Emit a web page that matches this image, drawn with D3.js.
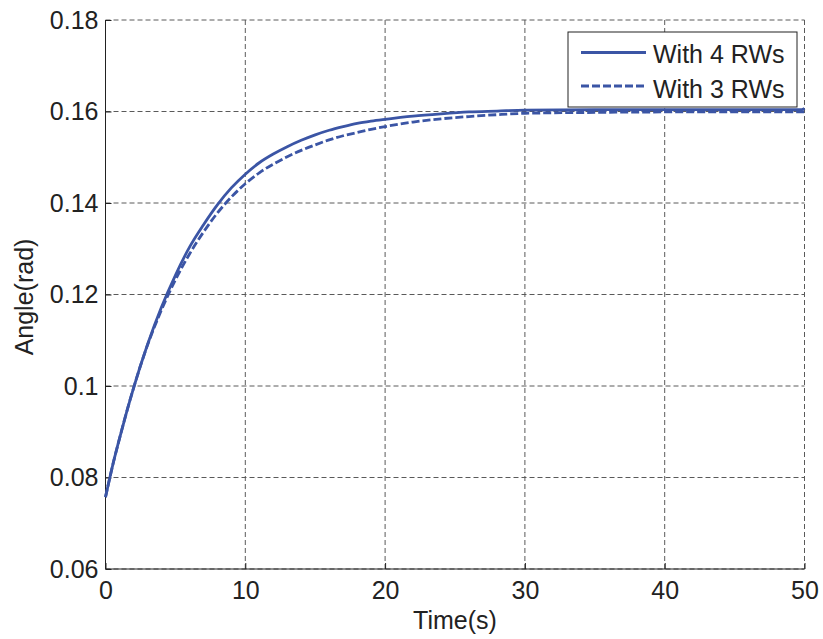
<!DOCTYPE html>
<html>
<head>
<meta charset="utf-8">
<script src="https://cdn.jsdelivr.net/npm/d3@7"></script>
<style>
  body { margin: 0; background: #fff; }
  text { font-family: "Liberation Sans", Arial, Helvetica, sans-serif; fill: #222; }
</style>
</head>
<body>
<svg id="chart" width="823" height="639"></svg>
<script>
const time = [0, 0.5, 1, 1.5, 2, 3, 4, 5, 6, 7, 8, 9, 10, 11, 12, 13, 14, 15, 16, 17, 18, 19, 20, 22, 24, 26, 28, 30, 35, 40, 45, 49.8, 50];
const with4RWs = [0.0757, 0.0825, 0.0885, 0.0942, 0.0995, 0.1090, 0.1172, 0.1242, 0.1303, 0.1352, 0.1396, 0.1433, 0.1463, 0.1488, 0.1507, 0.1523, 0.1537, 0.1549, 0.1559, 0.1567, 0.1574, 0.1579, 0.1583, 0.1590, 0.1595, 0.1599, 0.1601, 0.1603, 0.1604, 0.1604, 0.1604, 0.1604, 0.1607];
const with3RWs = [0.0757, 0.0825, 0.0885, 0.0942, 0.0995, 0.1089, 0.1166, 0.1232, 0.1288, 0.1336, 0.1378, 0.1413, 0.1442, 0.1466, 0.1485, 0.1501, 0.1515, 0.1527, 0.1538, 0.1547, 0.1554, 0.1561, 0.1567, 0.1577, 0.1584, 0.1589, 0.1593, 0.1596, 0.1598, 0.1599, 0.1599, 0.1599, 0.1599];
const xTicks = [0, 10, 20, 30, 40, 50];
const yTicks = [0.06, 0.08, 0.1, 0.12, 0.14, 0.16, 0.18];
const yTickLabels = ["0.06", "0.08", "0.1", "0.12", "0.14", "0.16", "0.18"];
const seriesNames = ["With 4 RWs", "With 3 RWs"];

const svg = d3.select("#chart");
const pLeft = 105.5, pRight = 804.5, pTop = 20, pBottom = 569;
const color = "#3b55a5";
const fs = "25px";

const x = d3.scaleLinear().domain([0, 50]).range([pLeft, pRight]);
const y = d3.scaleLinear().domain([0.06, 0.18]).range([pBottom, pTop]);

// grid
const grid = svg.append("g").attr("stroke", "#5a5a5a").attr("stroke-width", 1).attr("stroke-dasharray", "5,3");
xTicks.forEach(t => {
  grid.append("line").attr("x1", x(t)).attr("x2", x(t)).attr("y1", pTop).attr("y2", pBottom);
});
yTicks.forEach(t => {
  grid.append("line").attr("x1", pLeft).attr("x2", pRight).attr("y1", y(t)).attr("y2", y(t));
});

// axes
const xAxis = d3.axisBottom(x).tickValues(xTicks).tickSize(-6).tickFormat(d3.format("d"));
const yAxis = d3.axisLeft(y).tickValues(yTicks).tickSize(-6).tickFormat((d, i) => yTickLabels[i]);

const gx = svg.append("g").attr("transform", `translate(0,${pBottom})`).call(xAxis);
const gy = svg.append("g").attr("transform", `translate(${pLeft},0)`).call(yAxis);
[gx, gy].forEach(g => {
  g.select(".domain").attr("stroke", "#222").attr("stroke-width", 1);
  g.selectAll(".tick line").attr("stroke", "#222");
  g.selectAll(".tick text").style("font-size", fs).attr("fill", "#222")
    .style("font-family", "'Liberation Sans', Arial, sans-serif");
});
gx.select(".domain").attr("d", `M${pLeft},0H${pRight}`);
gy.select(".domain").attr("d", `M0,${pBottom}V${pTop}`);
gx.selectAll(".tick text").attr("dy", "0.71em").attr("y", 12);
gy.selectAll(".tick text").attr("x", -7);

// lines
const line = d3.line().x((d, i) => x(time[i])).y(d => y(d)).curve(d3.curveMonotoneX);
svg.append("path").datum(with3RWs).attr("d", line).attr("fill", "none")
  .attr("stroke", color).attr("stroke-width", 2.8).attr("stroke-dasharray", "8,3");
svg.append("path").datum(with4RWs).attr("d", line).attr("fill", "none")
  .attr("stroke", color).attr("stroke-width", 2.8);

// labels
svg.append("text").attr("x", 455).attr("y", 629).attr("text-anchor", "middle")
  .style("font-size", fs).text("Time(s)");
svg.append("text").attr("transform", "translate(33,297) rotate(-90)").attr("text-anchor", "middle")
  .style("font-size", fs).text("Angle(rad)");

// legend
const lg = svg.append("g");
lg.append("rect").attr("x", 568).attr("y", 32).attr("width", 229).attr("height", 75)
  .attr("fill", "#fff").attr("stroke", "#222").attr("stroke-width", 1);
seriesNames.forEach((name, i) => {
  const yy = 52.5 + i * 33.5;
  lg.append("line").attr("x1", 581).attr("x2", 646).attr("y1", yy).attr("y2", yy)
    .attr("stroke", color).attr("stroke-width", 2.8)
    .attr("stroke-dasharray", i === 1 ? "8,3" : null);
  lg.append("text").attr("x", 653).attr("y", yy + 10 + i * 2).style("font-size", fs).text(name);
});
</script>
</body>
</html>
